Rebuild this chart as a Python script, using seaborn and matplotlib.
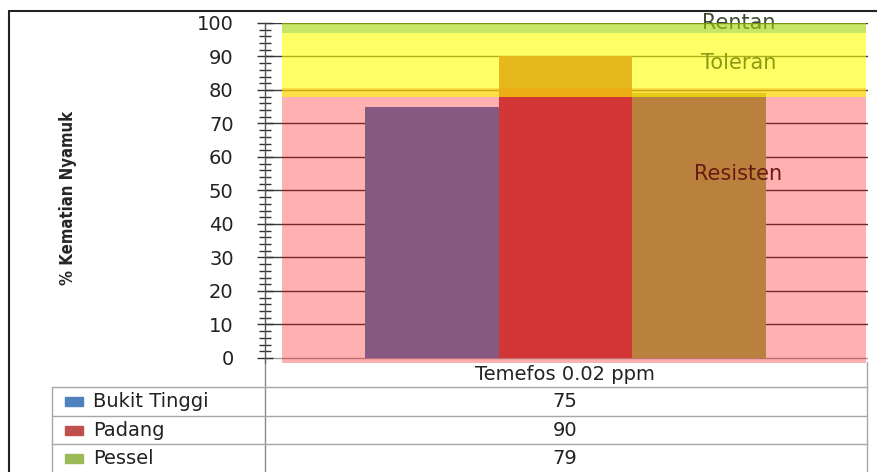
import matplotlib
matplotlib.use("Agg")
import matplotlib.pyplot as plt
from matplotlib.lines import Line2D
from matplotlib.patches import Rectangle
from matplotlib.ticker import MultipleLocator
import seaborn as sns
import pandas as pd

# ---------------- data ----------------
treatment = "Temefos 0.02 ppm"
sites = ["Bukit Tinggi", "Padang", "Pessel"]
mortality = [75, 90, 79]
site_colors = ["#4F81BD", "#C0504D", "#9BBB59"]

band_names = ["Resisten", "Toleran", "Rentan"]
band_low = [-1.5, 78, 97]
band_high = [80.7, 97, 100]
band_colors = ["#FF0000", "#FFFF00", "#A3D500"]
band_alpha = [0.31, 0.6, 0.6]
band_label_y = [55, 88, 100]
band_text_colors = ["#6B1A12", "#8C9A14", "#3F4A30"]

ylabel = "% Kematian Nyamuk"

# ---------------- figure ----------------
W, H = 878, 472
sns.set_style("white")
plt.rcParams["font.family"] = ["DejaVu Sans"]
fig = plt.figure(figsize=(W / 100, H / 100), dpi=100)

def fx(x):
    return x / W

def fy(y):
    return 1 - y / H

ax = fig.add_axes([fx(265), fy(363), (868 - 265) / W, (363 - 23) / H])

df = pd.DataFrame({"Perlakuan": [treatment] * len(sites),
                   "Lokasi": sites,
                   "Kematian": mortality})
sns.barplot(data=df, x="Perlakuan", y="Kematian", hue="Lokasi",
            palette=dict(zip(sites, site_colors)), saturation=1,
            legend=False, ax=ax, linewidth=0, zorder=1)

ax.set_xlim(-0.6, 0.604)
ax.set_ylim(-1.5, 100)

# category bands (overlays)
band_x = [-0.566, 0.6]
for lo, hi, c, a in zip(band_low, band_high, band_colors, band_alpha):
    ax.fill_between(band_x, lo, hi, color=c, alpha=a, lw=0, zorder=3)

text_x = 0.345
for name, ty, tc in zip(band_names, band_label_y, band_text_colors):
    z = 0.4 if name == "Rentan" else 5
    ax.text(text_x, ty, name, ha="center", va="center", fontsize=15,
            color=tc, zorder=z, clip_on=False)

# axes styling
ax.set_axisbelow(True)
ax.set_yticks(range(0, 101, 10))
ax.yaxis.set_minor_locator(MultipleLocator(2))
ax.yaxis.grid(True, which="major", color="#3a3a3a", lw=1)
ax.get_ygridlines()[0].set_color("#a0a0a0")
ax.tick_params(axis="y", which="major", left=True, direction="inout",
               length=11, width=1, color="#333333", pad=17, labelsize=14,
               labelcolor="#222222")
ax.tick_params(axis="y", which="minor", left=True, direction="inout",
               length=9, width=1, color="#333333")
ax.set_xticks([])
ax.set_xlabel("")
ax.set_ylabel("")
for s in ["top", "right", "bottom"]:
    ax.spines[s].set_visible(False)
ax.spines["left"].set_color("#555555")
ax.spines["left"].set_linewidth(1)
ax.patch.set_alpha(0)

fig.text(fx(68), fy(198), ylabel, rotation=90, ha="center", va="center",
         fontsize=12, fontweight="bold", fontstretch="condensed",
         family=["DejaVu Sans"])

# ---------------- data table ----------------
tc = "#a6a6a6"
def line(x0, y0, x1, y1, color=tc, lw=1):
    fig.add_artist(Line2D([fx(x0), fx(x1)], [fy(y0), fy(y1)],
                          color=color, lw=lw))

line(265, 363, 265, 472, color="#8a8a8a")
line(867, 362, 867, 472)
line(52, 387, 52, 472)
for yy in [387, 416, 444]:
    line(52, yy, 867, yy)

fig.text(fx(565), fy(375), treatment, ha="center", va="center",
         fontsize=14, color="#222222")
row_y = [401.5, 430, 458]
for name, val, col, ry in zip(sites, mortality, site_colors, row_y):
    fig.text(fx(565), fy(ry), str(val), ha="center", va="center",
             fontsize=14, color="#222222")
    fig.text(fx(93), fy(ry), name, ha="left", va="center",
             fontsize=14, color="#222222")
    fig.add_artist(Rectangle((fx(65), fy(ry + 4.5)), 18 / W, 9 / H,
                             color=col, transform=fig.transFigure))

# outer frame
line(9, 11, 878, 11, color="#222222", lw=1.5)
line(9, 11, 9, 472, color="#222222", lw=1.5)

fig.savefig("out.png", dpi=100)
